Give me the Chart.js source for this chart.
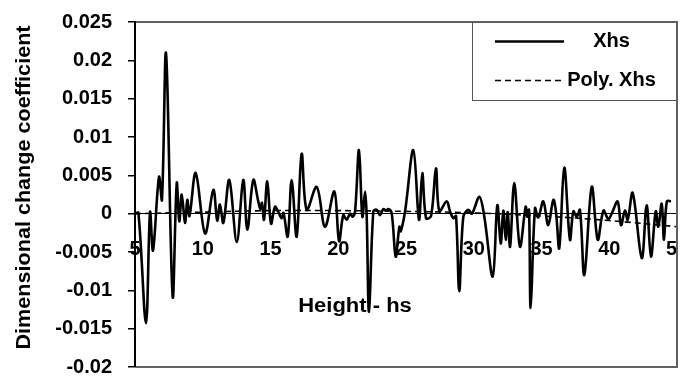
<!DOCTYPE html>
<html><head><meta charset="utf-8">
<script src="https://cdn.jsdelivr.net/npm/chart.js@4.4.1/dist/chart.umd.min.js"></script>
<style>html,body{margin:0;padding:0;background:#fff}canvas{display:block}</style>
</head><body>
<canvas id="c" width="688" height="376"></canvas>
<script>
// ---- data ----
const heights = [5.00,5.25,5.81,6.11,6.33,6.77,6.99,7.29,7.78,8.08,8.27,8.45,8.69,8.86,9.02,9.48,10.17,10.78,11.07,11.27,11.52,11.96,12.51,12.99,13.29,13.73,14.10,14.25,14.37,14.52,14.76,15.04,15.33,15.58,15.83,15.96,16.27,16.56,16.93,17.30,17.67,18.41,19.02,19.71,20.06,20.37,20.62,20.87,21.05,21.24,21.53,21.78,21.98,22.10,22.27,22.59,22.84,23.08,23.33,23.52,23.69,23.94,24.24,24.51,24.61,24.93,25.54,25.96,26.20,26.48,26.85,27.21,27.46,28.00,28.25,28.49,28.69,28.93,29.23,29.60,29.87,30.41,30.78,31.40,31.74,31.99,32.18,32.36,32.51,32.68,32.99,33.41,33.83,33.95,34.08,34.20,34.52,34.76,35.13,35.50,35.87,36.07,36.31,36.68,37.10,37.35,37.60,37.84,38.16,38.71,39.15,39.57,39.93,40.20,40.62,40.87,41.16,41.36,41.73,42.40,42.76,43.08,43.43,43.62,43.87,44.04,44.25,44.56];
const xhs = [0.0000,0.0001,-0.0143,0.0002,-0.0048,0.0048,0.0018,0.0209,-0.0108,0.0040,-0.0010,0.0025,-0.0012,0.0018,-0.0003,0.0053,-0.0026,0.0031,-0.0009,0.0012,-0.0012,0.0044,-0.0037,0.0044,-0.0021,0.0044,0.0016,0.0006,0.0014,-0.0008,0.0042,-0.0013,0.0009,0.0002,-0.0006,0.0001,-0.0030,0.0044,-0.0030,0.0078,0.0005,0.0035,-0.0017,0.0029,-0.0036,-0.0002,-0.0008,0.0000,-0.0004,0.0003,0.0083,-0.0004,0.0029,-0.0004,-0.0128,0.0003,0.0005,-0.0002,0.0006,0.0004,0.0006,0.0001,-0.0056,-0.0017,-0.0023,0.0003,0.0083,-0.0008,0.0053,-0.0006,-0.0003,0.0059,0.0003,0.0016,0.0003,-0.0006,-0.0003,-0.0101,-0.0004,0.0005,0.0000,0.0022,-0.0004,-0.0082,0.0011,-0.0039,0.0004,-0.0034,0.0002,-0.0043,0.0040,-0.0043,0.0009,-0.0004,0.0005,-0.0123,0.0007,-0.0005,0.0016,-0.0015,0.0018,0.0002,-0.0045,0.0060,-0.0034,0.0003,-0.0004,0.0005,-0.0080,0.0035,-0.0034,0.0004,-0.0007,0.0001,0.0016,-0.0015,0.0004,-0.0008,0.0027,-0.0058,0.0011,-0.0056,0.0003,-0.0017,0.0013,-0.0034,0.0016,0.0016];
const polyHeights = [5,10,15,20,25,30,35,40,45];
const polyXhs = [0.0000,0.0002,0.0004,0.0004,0.0003,0.0001,-0.0003,-0.0009,-0.0017];
const xTickValues = [5,10,15,20,25,30,35,40,45];
const xTickLabels = ['5','10','15','20','25','30','35','40','52'];
const seriesNames = ['Xhs','Poly. Xhs'];
const yTitle = 'Dimensional change coefficient';
const xTitle = 'Height - hs';

const FONT = "'Liberation Sans', Arial, Helvetica, sans-serif";

const decor = {
  id: 'decor',
  afterDatasetsDraw(chart) {
    const {ctx, chartArea: a} = chart;
    const L = Math.round(a.left), T = Math.round(a.top), R = Math.round(a.right), B = Math.round(a.bottom);
    ctx.save();
    ctx.setLineDash([]);
    ctx.globalAlpha = 1;
    ctx.globalCompositeOperation = 'source-over';
    // clip anything right of the plot frame
    ctx.fillStyle = '#ffffff';
    ctx.fillRect(R + 1, 0, chart.width - R, chart.height);
    // plot frame (top, right, bottom)
    ctx.fillStyle = '#606060';
    ctx.fillRect(L + 1, T - 1, R - L, 2);
    ctx.fillRect(R - 1, T - 1, 2, B - T + 2);
    ctx.fillRect(L + 1, B - 1, R - L, 2);
    // legend box
    const lw = 205, lh = 78;
    const lx = R - lw, ly = T;
    ctx.fillStyle = '#ffffff';
    ctx.fillRect(lx, ly + 1, lw - 1, lh - 1);
    ctx.fillStyle = '#555555';
    ctx.fillRect(lx, ly, 1, lh);
    ctx.fillRect(lx, ly + lh, lw, 1);
    chart.data.datasets.forEach((ds, i) => {
      const y = ly + 19.5 + i * 39;
      ctx.strokeStyle = '#000';
      ctx.lineWidth = ds.borderWidth;
      ctx.setLineDash(ds.borderDash || []);
      ctx.beginPath();
      ctx.moveTo(lx + 23, y);
      ctx.lineTo(lx + 92, y);
      ctx.stroke();
      ctx.setLineDash([]);
      ctx.fillStyle = '#000';
      ctx.font = 'bold 20px ' + FONT;
      ctx.textAlign = 'center';
      ctx.textBaseline = 'middle';
      ctx.fillText(ds.label, lx + 139.5, y);
    });
    // axis titles
    ctx.fillStyle = '#000';
    ctx.font = 'bold 20px ' + FONT;
    ctx.textAlign = 'center';
    ctx.textBaseline = 'middle';
    ctx.save();
    ctx.translate(24, 187.5);
    ctx.rotate(-Math.PI / 2);
    ctx.scale(1.08, 1);
    ctx.fillText(yTitle, 0, 0);
    ctx.restore();
    ctx.save();
    ctx.translate(a.left + 220, 306);
    ctx.scale(1.1, 1);
    ctx.fillText(xTitle, 0, 0);
    ctx.restore();
    ctx.restore();
  }
};

new Chart(document.getElementById('c'), {
  type: 'line',
  data: {
    datasets: [
      {
        label: seriesNames[0],
        data: heights.map((h, i) => ({x: h, y: xhs[i]})),
        borderColor: '#000',
        borderWidth: 2.6,
        pointRadius: 0,
        tension: 0.35,
        fill: false
      },
      {
        label: seriesNames[1],
        data: polyHeights.map((h, i) => ({x: h, y: polyXhs[i]})),
        borderColor: '#000',
        borderWidth: 1.6,
        borderDash: [6, 4],
        pointRadius: 0,
        tension: 0.4,
        fill: false
      }
    ]
  },
  options: {
    responsive: false,
    devicePixelRatio: 1,
    animation: false,
    layout: {padding: {top: 22, right: 11, bottom: 9, left: 0}},
    plugins: {legend: {display: false}, tooltip: {enabled: false}},
    scales: {
      x: {
        type: 'linear',
        min: 5,
        max: 45,
        position: {y: 0},
        grid: {display: true, drawOnChartArea: false, drawTicks: false},
        border: {display: true, color: '#000', width: 1},
        afterBuildTicks: s => { s.ticks = xTickValues.map(v => ({value: v})); },
        afterFit: s => { s.paddingLeft = 0; s.paddingRight = 0; },
        ticks: {
          autoSkip: false,
          maxRotation: 0,
          padding: 24,
          color: '#000',
          font: {family: FONT, size: 20, weight: 'bold'},
          callback: (v, i) => xTickLabels[i]
        }
      },
      y: {
        type: 'linear',
        position: 'left',
        min: -0.02,
        max: 0.025,
        afterFit: s => { s.width = 135; s.paddingTop = 0; s.paddingBottom = 0; },
        grid: {display: true, drawOnChartArea: false, drawTicks: true, tickLength: 7, color: '#000', lineWidth: 1.5},
        border: {display: true, color: '#000', width: 2},
        ticks: {
          stepSize: 0.005,
          padding: 16,
          color: '#000',
          font: {family: FONT, size: 20, weight: 'bold'},
          callback: v => String(+Number(v).toFixed(3))
        }
      }
    }
  },
  plugins: [decor]
});
</script>
</body></html>
